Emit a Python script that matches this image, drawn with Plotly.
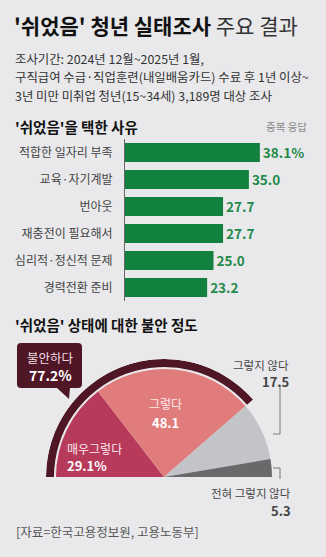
import plotly.graph_objects as go

W, H = 326, 557
FONT = "Noto Sans CJK KR"
BG = "#e9e9eb"

# ---------------- data ----------------
reasons = ["적합한 일자리 부족", "교육·자기계발", "번아웃", "재충전이 필요해서",
           "심리적·정신적 문제", "경력전환 준비"]
reason_values = [38.1, 35.0, 27.7, 27.7, 25.0, 23.2]

anx_labels = ["매우그렇다", "그렇다", "그렇지 않다", "전혀 그렇지 않다"]
anx_values = [29.1, 48.1, 17.5, 5.3]
anx_colors = ["#b83a5b", "#e07c7c", "#c3c4c7", "#69696b"]
anxious_label = "불안하다"
anxious_total = 77.2


def px(x):
    return x / W


def py(y):
    return 1 - y / H


fig = go.Figure()

# ---------------- bar chart ----------------
bar_text = [f"{v:.1f}%" if i == 0 else f"{v:.1f}" for i, v in enumerate(reason_values)]
fig.add_trace(go.Bar(
    x=reason_values, y=reasons, orientation="h",
    marker=dict(color="#12803f", line=dict(width=0)),
    width=0.7,
    text=bar_text, textposition="outside", cliponaxis=False,
    textfont=dict(family=FONT, size=15, color="#1f8a4a", weight="bold"),
    xaxis="x", yaxis="y", hoverinfo="skip", showlegend=False,
))

# ---------------- half pie (barpolar) ----------------
span = 180.0
widths = [v / 100 * span for v in anx_values]
centers = []
acc = 0
for w_ in widths:
    centers.append(acc + w_ / 2)
    acc += w_
R_PIE = 108
fig.add_trace(go.Barpolar(
    r=[R_PIE] * len(anx_values), theta=centers, width=widths, base=0,
    marker=dict(color=anx_colors, line=dict(width=0)),
    subplot="polar", hoverinfo="skip", showlegend=False,
))
ring_w = anxious_total / 100 * span
fig.add_trace(go.Barpolar(
    r=[8], theta=[ring_w / 2], width=[ring_w], base=[110],
    marker=dict(color="#4f1626", line=dict(width=0)),
    subplot="polar", hoverinfo="skip", showlegend=False,
))

cx, cy, R_OUT = 164, 477, 118

fig.update_layout(
    width=W, height=H,
    margin=dict(l=0, r=0, t=0, b=0),
    paper_bgcolor=BG, plot_bgcolor=BG,
    font=dict(family=FONT),
    bargap=0.3,
    xaxis=dict(domain=[px(125), px(302)], range=[0, 50], visible=False, fixedrange=True),
    yaxis=dict(domain=[py(301), py(139)], categoryorder="array", categoryarray=reasons,
               autorange="reversed", showline=True, linecolor="#666", linewidth=1,
               ticks="", ticklabelstandoff=9, showgrid=False, zeroline=False,
               tickfont=dict(family=FONT, size=12, color="#444")),
    polar=dict(
        domain=dict(x=[px(cx - R_OUT), px(cx + R_OUT)], y=[py(cy), py(cy - R_OUT)]),
        sector=[0, 180], bgcolor="rgba(0,0,0,0)", hole=0,
        angularaxis=dict(rotation=180, direction="clockwise", thetaunit="degrees",
                         visible=False, showgrid=False),
        radialaxis=dict(range=[0, R_OUT], visible=False, showgrid=False),
    ),
)

ann = []


def text(x, y, s, size, color="#222", anchor="left", weight="normal", yanchor="middle"):
    ann.append(dict(x=px(x), y=py(y), xref="paper", yref="paper", text=s,
                    showarrow=False, xanchor=anchor, yanchor=yanchor,
                    font=dict(family=FONT, size=size, color=color, weight=weight)))


# titles
text(12, 25, "<b>'쉬었음' 청년 실태조사</b> <span style='color:#333'>주요 결과</span>", 21, "#111")
text(13, 59, "조사기간: 2024년 12월~2025년 1월,", 12.4, "#333")
text(13, 77, "구직급여 수급·직업훈련(내일배움카드) 수료 후 1년 이상~", 12.4, "#333")
text(13, 96, "3년 미만 미취업 청년(15~34세) 3,189명 대상 조사", 12.4, "#333")
text(13, 126, "<b>'쉬었음'을 택한 사유</b>", 14.5, "#111")
text(309, 126, "중복 응답", 10.5, "#888", anchor="right")
text(13, 324, "<b>'쉬었음' 상태에 대한 불안 정도</b>", 14.5, "#111")
text(14, 531, "[자료=한국고용정보원, 고용노동부]", 12.5, "#555")

# pie labels
text(65, 448, anx_labels[0], 12, "#fbe9ee")
text(65, 465, f"<b>{anx_values[0]:.1f}%</b>", 13, "#ffffff")
text(165, 403, anx_labels[1], 12, "#fde9e9", anchor="center")
text(166, 422, f"<b>{anx_values[1]:.1f}</b>", 13, "#ffffff", anchor="center")
text(291, 365, anx_labels[2], 11.5, "#444", anchor="right")
text(291, 381, f"<b>{anx_values[2]:.1f}</b>", 13, "#444", anchor="right")
text(293, 493, anx_labels[3], 11.5, "#444", anchor="right")
text(293, 510, f"<b>{anx_values[3]:.1f}</b>", 13, "#444", anchor="right")

# callout
text(50, 357, anxious_label, 12.5, "#f3dde3", anchor="center")
text(50, 375, f"<b>{anxious_total:.1f}%</b>", 14, "#ffffff", anchor="center")

fig.update_layout(annotations=ann)


def P(x, y):
    return f"{px(x):.5f},{py(y):.5f}"


# callout box with tail (decoration)
x0, x1, y0, y1, rr = 17, 82, 343, 388, 4
path = (f"M {P(x0 + rr, y0)} L {P(x1 - rr, y0)} Q {P(x1, y0)} {P(x1, y0 + rr)} "
        f"L {P(x1, y1 - rr)} Q {P(x1, y1)} {P(x1 - rr, y1)} L {P(70, y1)} L {P(69, 399)} "
        f"L {P(57, y1)} L {P(x0 + rr, y1)} Q {P(x0, y1)} {P(x0, y1 - rr)} "
        f"L {P(x0, y0 + rr)} Q {P(x0, y0)} {P(x0 + rr, y0)} Z")
shapes = [dict(type="path", path=path, xref="paper", yref="paper",
               fillcolor="#4f1626", line=dict(width=0), layer="above")]

# leader lines (decoration)
for pts in ([(273, 434), (280, 434), (280, 385)], [(273, 468), (280, 468), (280, 479)]):
    for (a, b), (c, d) in zip(pts[:-1], pts[1:]):
        shapes.append(dict(type="line", xref="paper", yref="paper",
                           x0=px(a), y0=py(b), x1=px(c), y1=py(d),
                           line=dict(color="#777", width=1)))

fig.update_layout(shapes=shapes)

fig.write_html("out.html")
